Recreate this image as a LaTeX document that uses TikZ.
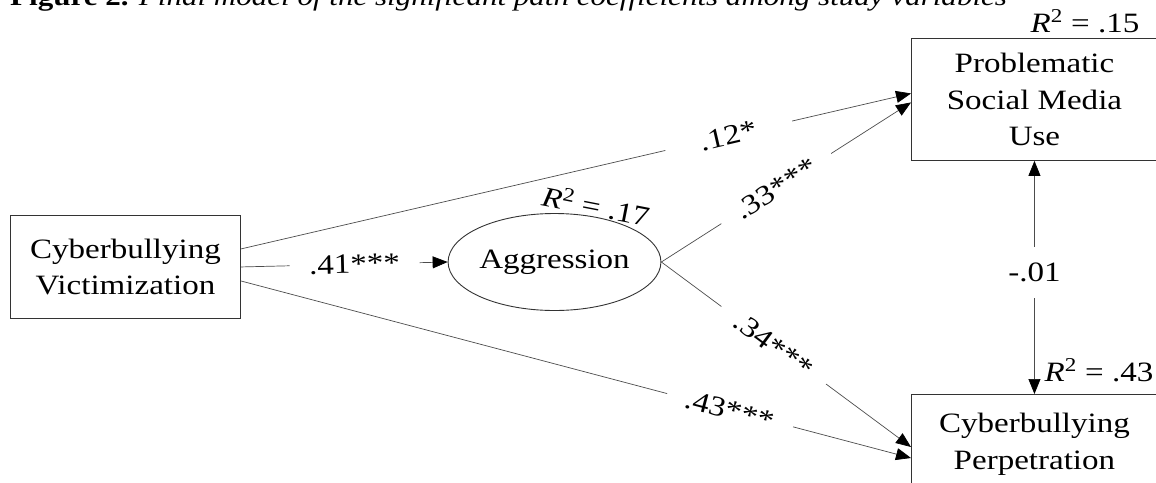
\documentclass[tikz,border=0pt]{standalone}
\usepackage{fontspec}
\setmainfont[FakeStretch=1.18]{Liberation Serif}
\usetikzlibrary{arrows.meta,shapes.geometric,calc}
\begin{document}
\begin{tikzpicture}[x=1pt,y=-1pt,
  every node/.style={font=\fontsize{28}{36.5}\selectfont},
  varbox/.style={draw=black!80, line width=0.9pt, align=center, inner sep=0pt},
  conn/.style={draw=black!70, line width=0.7pt},
  arr/.style={conn, -{Triangle[length=15pt,width=12pt,color=black]}},
  dblarr/.style={conn, {Triangle[length=15pt,width=12pt,color=black]}-{Triangle[length=15pt,width=12pt,color=black]}},
  coef/.style={fill=white, sloped, inner sep=0pt, minimum width=130pt, minimum height=12pt},
  rsq/.style={inner sep=0pt, anchor=base}]
\path[use as bounding box, clip] (0,0) rectangle (1156,482);

% title (cut off at top)
\node[anchor=base west, inner sep=0pt, font=\fontsize{26.3}{32}\selectfont] (title) at (10,5)
  {\textbf{Figure 2.} \textit{Final model of the significant path coefficients among study variables}};

% variables
\node[varbox, anchor=north west, minimum width=230pt, minimum height=103pt] (vic) at (10,215)
  {Cyberbullying\\Victimization};
\node[varbox, ellipse, minimum width=195pt, minimum height=97pt] (agg) at (554.5,262)
  {Aggression};
\node[varbox, anchor=north west, minimum width=246pt, minimum height=122pt] (psmu) at (911,38)
  {Problematic\\Social Media\\Use};
\node[varbox, anchor=north west, minimum width=246pt, inner ysep=19pt] (perp) at (911,394)
  {Cyberbullying\\Perpetration};

% R squared
\node[rsq] (r15) at (1085,32) {\textit{R}\textsuperscript{2} = .15};
\node[rsq] (r43) at (1099,381) {\textit{R}\textsuperscript{2} = .43};
\node[rsq, rotate=-11] (r17) at (594,216) {\textit{R}\textsuperscript{2} = .17};

% paths
\draw[arr] (vic.east) -- node[coef, pos=0.55]{.41***} (agg.west);
\draw[arr] ($(vic.east)+(0,-18)$) -- node[coef, pos=0.728]{.12*} ($(psmu.west)+(0,-6)$);
\draw[arr] ($(vic.east)+(0,14)$) -- node[coef, pos=0.73]{.43***} ($(perp.north west)+(0,64)$);
\draw[arr] (agg.east) -- node[coef, pos=0.46]{.33***} ($(psmu.west)+(0,3)$);
\draw[arr] (agg.east) -- node[coef, pos=0.45]{.34***} ($(perp.north west)+(0,53)$);
\draw[dblarr] (psmu.south) -- node[fill=white, inner sep=0pt, minimum height=51pt, minimum width=60pt, pos=0.48]{-.01} (perp.north);
\end{tikzpicture}
\end{document}
